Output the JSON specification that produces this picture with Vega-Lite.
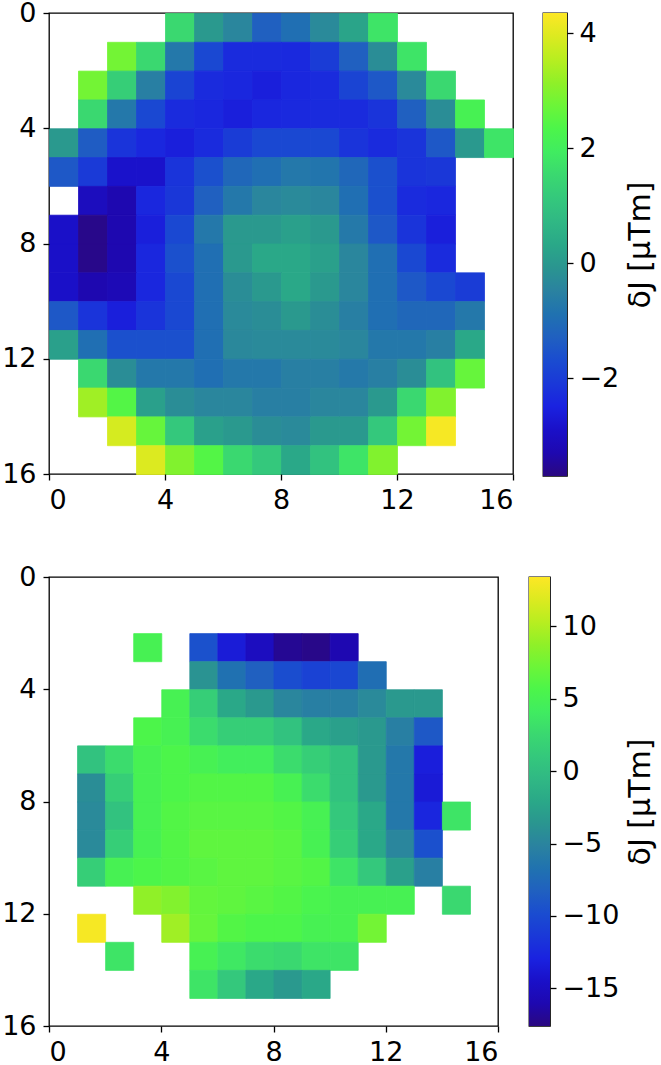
{
  "$schema": "https://vega.github.io/schema/vega-lite/v6.json",
  "background": "white",
  "padding": {"left": 0, "top": -2, "right": 0, "bottom": 0},
  "spacing": 48,
  "resolve": {"scale": {"color": "independent", "x": "independent", "y": "independent"}, "axis": {"x": "independent", "y": "independent"}},
  "config": {
    "font": "DejaVu Sans",
    "view": {"stroke": "black", "strokeWidth": 1.3},
    "axis": {"labelFontSize": 27, "labelColor": "black", "labelFont": "DejaVu Sans", "tickColor": "black", "tickSize": 6, "tickWidth": 1.3, "domain": false, "grid": false, "labelPadding": 7, "titleFont": "DejaVu Sans", "titleFontSize": 30, "titleFontWeight": "normal", "titleColor": "black"}
  },
  "datasets": {
    "top": [
      {"r":0,"c":4,"v":1.53},{"r":0,"c":5,"v":0.0},{"r":0,"c":6,"v":-0.4},{"r":0,"c":7,"v":-1.29},{"r":0,"c":8,"v":-0.96},{"r":0,"c":9,"v":-0.32},{"r":0,"c":10,"v":0.25},{"r":0,"c":11,"v":1.77},
      {"r":1,"c":2,"v":2.82},{"r":1,"c":3,"v":1.53},{"r":1,"c":4,"v":-0.72},{"r":1,"c":5,"v":-1.77},{"r":1,"c":6,"v":-2.33},{"r":1,"c":7,"v":-2.33},{"r":1,"c":8,"v":-2.37},{"r":1,"c":9,"v":-2.01},{"r":1,"c":10,"v":-1.29},{"r":1,"c":11,"v":-0.24},{"r":1,"c":12,"v":1.77},
      {"r":2,"c":1,"v":2.82},{"r":2,"c":2,"v":1.29},{"r":2,"c":3,"v":-0.56},{"r":2,"c":4,"v":-1.85},{"r":2,"c":5,"v":-2.33},{"r":2,"c":6,"v":-2.41},{"r":2,"c":7,"v":-2.57},{"r":2,"c":8,"v":-2.41},{"r":2,"c":9,"v":-2.33},{"r":2,"c":10,"v":-1.85},{"r":2,"c":11,"v":-1.45},{"r":2,"c":12,"v":-0.32},{"r":2,"c":13,"v":1.53},
      {"r":3,"c":1,"v":1.53},{"r":3,"c":2,"v":-0.72},{"r":3,"c":3,"v":-1.77},{"r":3,"c":4,"v":-2.33},{"r":3,"c":5,"v":-2.41},{"r":3,"c":6,"v":-2.57},{"r":3,"c":7,"v":-2.41},{"r":3,"c":8,"v":-2.37},{"r":3,"c":9,"v":-2.33},{"r":3,"c":10,"v":-2.33},{"r":3,"c":11,"v":-2.17},{"r":3,"c":12,"v":-1.29},{"r":3,"c":13,"v":-0.24},{"r":3,"c":14,"v":2.18},
      {"r":4,"c":0,"v":0.0},{"r":4,"c":1,"v":-1.37},{"r":4,"c":2,"v":-2.17},{"r":4,"c":3,"v":-2.41},{"r":4,"c":4,"v":-2.57},{"r":4,"c":5,"v":-2.33},{"r":4,"c":6,"v":-2.01},{"r":4,"c":7,"v":-1.77},{"r":4,"c":8,"v":-1.77},{"r":4,"c":9,"v":-1.77},{"r":4,"c":10,"v":-2.17},{"r":4,"c":11,"v":-2.33},{"r":4,"c":12,"v":-2.17},{"r":4,"c":13,"v":-1.45},{"r":4,"c":14,"v":0.0},{"r":4,"c":15,"v":1.77},
      {"r":5,"c":0,"v":-1.45},{"r":5,"c":1,"v":-2.05},{"r":5,"c":2,"v":-2.85},{"r":5,"c":3,"v":-2.85},{"r":5,"c":4,"v":-2.17},{"r":5,"c":5,"v":-1.61},{"r":5,"c":6,"v":-1.12},{"r":5,"c":7,"v":-0.96},{"r":5,"c":8,"v":-0.72},{"r":5,"c":9,"v":-0.8},{"r":5,"c":10,"v":-1.12},{"r":5,"c":11,"v":-1.61},{"r":5,"c":12,"v":-2.17},{"r":5,"c":13,"v":-2.1},
      {"r":6,"c":1,"v":-3.06},{"r":6,"c":2,"v":-3.3},{"r":6,"c":3,"v":-2.41},{"r":6,"c":4,"v":-2.1},{"r":6,"c":5,"v":-1.29},{"r":6,"c":6,"v":-0.72},{"r":6,"c":7,"v":-0.4},{"r":6,"c":8,"v":-0.32},{"r":6,"c":9,"v":-0.4},{"r":6,"c":10,"v":-0.96},{"r":6,"c":11,"v":-1.61},{"r":6,"c":12,"v":-2.33},{"r":6,"c":13,"v":-2.41},
      {"r":7,"c":0,"v":-2.9},{"r":7,"c":1,"v":-3.62},{"r":7,"c":2,"v":-3.3},{"r":7,"c":3,"v":-2.57},{"r":7,"c":4,"v":-1.77},{"r":7,"c":5,"v":-0.72},{"r":7,"c":6,"v":0.0},{"r":7,"c":7,"v":0.0},{"r":7,"c":8,"v":0.16},{"r":7,"c":9,"v":0.0},{"r":7,"c":10,"v":-0.7},{"r":7,"c":11,"v":-1.45},{"r":7,"c":12,"v":-2.17},{"r":7,"c":13,"v":-2.57},
      {"r":8,"c":0,"v":-2.9},{"r":8,"c":1,"v":-3.62},{"r":8,"c":2,"v":-3.3},{"r":8,"c":3,"v":-2.41},{"r":8,"c":4,"v":-1.61},{"r":8,"c":5,"v":-0.96},{"r":8,"c":6,"v":0.0},{"r":8,"c":7,"v":0.33},{"r":8,"c":8,"v":0.33},{"r":8,"c":9,"v":0.16},{"r":8,"c":10,"v":-0.4},{"r":8,"c":11,"v":-0.96},{"r":8,"c":12,"v":-1.77},{"r":8,"c":13,"v":-2.33},
      {"r":9,"c":0,"v":-2.9},{"r":9,"c":1,"v":-3.3},{"r":9,"c":2,"v":-3.2},{"r":9,"c":3,"v":-2.41},{"r":9,"c":4,"v":-1.77},{"r":9,"c":5,"v":-0.96},{"r":9,"c":6,"v":-0.24},{"r":9,"c":7,"v":0.0},{"r":9,"c":8,"v":0.33},{"r":9,"c":9,"v":0.0},{"r":9,"c":10,"v":-0.4},{"r":9,"c":11,"v":-0.96},{"r":9,"c":12,"v":-1.45},{"r":9,"c":13,"v":-1.77},{"r":9,"c":14,"v":-2.01},
      {"r":10,"c":0,"v":-1.45},{"r":10,"c":1,"v":-2.17},{"r":10,"c":2,"v":-2.57},{"r":10,"c":3,"v":-2.17},{"r":10,"c":4,"v":-1.77},{"r":10,"c":5,"v":-0.96},{"r":10,"c":6,"v":-0.32},{"r":10,"c":7,"v":-0.24},{"r":10,"c":8,"v":0.0},{"r":10,"c":9,"v":-0.24},{"r":10,"c":10,"v":-0.56},{"r":10,"c":11,"v":-0.96},{"r":10,"c":12,"v":-1.12},{"r":10,"c":13,"v":-1.12},{"r":10,"c":14,"v":-0.72},
      {"r":11,"c":0,"v":0.16},{"r":11,"c":1,"v":-0.96},{"r":11,"c":2,"v":-1.61},{"r":11,"c":3,"v":-1.61},{"r":11,"c":4,"v":-1.61},{"r":11,"c":5,"v":-0.96},{"r":11,"c":6,"v":-0.36},{"r":11,"c":7,"v":-0.32},{"r":11,"c":8,"v":-0.32},{"r":11,"c":9,"v":-0.32},{"r":11,"c":10,"v":-0.4},{"r":11,"c":11,"v":-0.72},{"r":11,"c":12,"v":-0.72},{"r":11,"c":13,"v":-0.56},{"r":11,"c":14,"v":0.33},
      {"r":12,"c":1,"v":1.53},{"r":12,"c":2,"v":-0.24},{"r":12,"c":3,"v":-0.72},{"r":12,"c":4,"v":-0.72},{"r":12,"c":5,"v":-0.96},{"r":12,"c":6,"v":-0.72},{"r":12,"c":7,"v":-0.72},{"r":12,"c":8,"v":-0.56},{"r":12,"c":9,"v":-0.56},{"r":12,"c":10,"v":-0.7},{"r":12,"c":11,"v":-0.56},{"r":12,"c":12,"v":-0.24},{"r":12,"c":13,"v":0.97},{"r":12,"c":14,"v":2.66},
      {"r":13,"c":1,"v":3.3},{"r":13,"c":2,"v":2.42},{"r":13,"c":3,"v":0.16},{"r":13,"c":4,"v":-0.24},{"r":13,"c":5,"v":-0.4},{"r":13,"c":6,"v":-0.4},{"r":13,"c":7,"v":-0.56},{"r":13,"c":8,"v":-0.56},{"r":13,"c":9,"v":-0.4},{"r":13,"c":10,"v":-0.4},{"r":13,"c":11,"v":0.0},{"r":13,"c":12,"v":1.53},{"r":13,"c":13,"v":2.98},
      {"r":14,"c":2,"v":3.87},{"r":14,"c":3,"v":2.66},{"r":14,"c":4,"v":1.13},{"r":14,"c":5,"v":0.16},{"r":14,"c":6,"v":0.0},{"r":14,"c":7,"v":-0.24},{"r":14,"c":8,"v":-0.32},{"r":14,"c":9,"v":0.0},{"r":14,"c":10,"v":0.0},{"r":14,"c":11,"v":1.13},{"r":14,"c":12,"v":2.82},{"r":14,"c":13,"v":4.27},
      {"r":15,"c":3,"v":3.95},{"r":15,"c":4,"v":2.98},{"r":15,"c":5,"v":2.42},{"r":15,"c":6,"v":1.53},{"r":15,"c":7,"v":1.13},{"r":15,"c":8,"v":0.33},{"r":15,"c":9,"v":0.97},{"r":15,"c":10,"v":1.77},{"r":15,"c":11,"v":2.98}
    ],
    "bottom": [
      {"r":2,"c":3,"v":5.03},{"r":2,"c":5,"v":-9.5},{"r":2,"c":6,"v":-13.5},{"r":2,"c":7,"v":-15.1},{"r":2,"c":8,"v":-17.0},{"r":2,"c":9,"v":-17.3},{"r":2,"c":10,"v":-16.0},
      {"r":3,"c":5,"v":-3.8},{"r":3,"c":6,"v":-6.8},{"r":3,"c":7,"v":-8.3},{"r":3,"c":8,"v":-9.8},{"r":3,"c":9,"v":-10.6},{"r":3,"c":10,"v":-10.2},{"r":3,"c":11,"v":-7.06},
      {"r":4,"c":4,"v":5.03},{"r":4,"c":5,"v":1.62},{"r":4,"c":6,"v":-2.1},{"r":4,"c":7,"v":-3.34},{"r":4,"c":8,"v":-4.89},{"r":4,"c":9,"v":-5.51},{"r":4,"c":10,"v":-5.51},{"r":4,"c":11,"v":-4.58},{"r":4,"c":12,"v":-3.34},{"r":4,"c":13,"v":-3.34},
      {"r":5,"c":3,"v":5.65},{"r":5,"c":4,"v":5.03},{"r":5,"c":5,"v":2.86},{"r":5,"c":6,"v":1.62},{"r":5,"c":7,"v":1.62},{"r":5,"c":8,"v":0.38},{"r":5,"c":9,"v":-2.1},{"r":5,"c":10,"v":-2.72},{"r":5,"c":11,"v":-3.34},{"r":5,"c":12,"v":-5.51},{"r":5,"c":13,"v":-8.92},
      {"r":6,"c":1,"v":0.38},{"r":6,"c":2,"v":2.86},{"r":6,"c":3,"v":5.03},{"r":6,"c":4,"v":5.65},{"r":6,"c":5,"v":5.03},{"r":6,"c":6,"v":4.41},{"r":6,"c":7,"v":4.41},{"r":6,"c":8,"v":2.86},{"r":6,"c":9,"v":1.62},{"r":6,"c":10,"v":0.38},{"r":6,"c":11,"v":-3.34},{"r":6,"c":12,"v":-6.13},{"r":6,"c":13,"v":-13.26},
      {"r":7,"c":1,"v":-4.27},{"r":7,"c":2,"v":1.62},{"r":7,"c":3,"v":5.03},{"r":7,"c":4,"v":5.65},{"r":7,"c":5,"v":5.96},{"r":7,"c":6,"v":5.96},{"r":7,"c":7,"v":5.96},{"r":7,"c":8,"v":5.03},{"r":7,"c":9,"v":2.86},{"r":7,"c":10,"v":0.38},{"r":7,"c":11,"v":-3.34},{"r":7,"c":12,"v":-6.13},{"r":7,"c":13,"v":-13.57},
      {"r":8,"c":1,"v":-4.58},{"r":8,"c":2,"v":0.38},{"r":8,"c":3,"v":5.03},{"r":8,"c":4,"v":5.96},{"r":8,"c":5,"v":6.27},{"r":8,"c":6,"v":6.27},{"r":8,"c":7,"v":6.27},{"r":8,"c":8,"v":5.96},{"r":8,"c":9,"v":5.03},{"r":8,"c":10,"v":1.0},{"r":8,"c":11,"v":-2.1},{"r":8,"c":12,"v":-6.13},{"r":8,"c":13,"v":-12.64},{"r":8,"c":14,"v":3.48},
      {"r":9,"c":1,"v":-4.58},{"r":9,"c":2,"v":1.62},{"r":9,"c":3,"v":5.03},{"r":9,"c":4,"v":5.96},{"r":9,"c":5,"v":6.58},{"r":9,"c":6,"v":6.58},{"r":9,"c":7,"v":6.58},{"r":9,"c":8,"v":6.27},{"r":9,"c":9,"v":5.03},{"r":9,"c":10,"v":1.62},{"r":9,"c":11,"v":-2.1},{"r":9,"c":12,"v":-4.89},{"r":9,"c":13,"v":-9.54},
      {"r":10,"c":1,"v":1.62},{"r":10,"c":2,"v":5.03},{"r":10,"c":3,"v":5.65},{"r":10,"c":4,"v":5.96},{"r":10,"c":5,"v":6.27},{"r":10,"c":6,"v":6.58},{"r":10,"c":7,"v":6.58},{"r":10,"c":8,"v":6.27},{"r":10,"c":9,"v":5.96},{"r":10,"c":10,"v":3.48},{"r":10,"c":11,"v":1.0},{"r":10,"c":12,"v":-2.72},{"r":10,"c":13,"v":-5.5},
      {"r":11,"c":3,"v":8.75},{"r":11,"c":4,"v":8.13},{"r":11,"c":5,"v":6.74},{"r":11,"c":6,"v":6.58},{"r":11,"c":7,"v":6.27},{"r":11,"c":8,"v":5.96},{"r":11,"c":9,"v":5.4},{"r":11,"c":10,"v":5.03},{"r":11,"c":11,"v":5.03},{"r":11,"c":12,"v":5.03},{"r":11,"c":14,"v":2.55},
      {"r":12,"c":1,"v":13.09},{"r":12,"c":4,"v":9.37},{"r":12,"c":5,"v":6.89},{"r":12,"c":6,"v":5.96},{"r":12,"c":7,"v":5.65},{"r":12,"c":8,"v":5.65},{"r":12,"c":9,"v":5.03},{"r":12,"c":10,"v":5.03},{"r":12,"c":11,"v":7.51},
      {"r":13,"c":2,"v":3.48},{"r":13,"c":5,"v":5.03},{"r":13,"c":6,"v":3.8},{"r":13,"c":7,"v":2.86},{"r":13,"c":8,"v":2.55},{"r":13,"c":9,"v":3.48},{"r":13,"c":10,"v":3.48},
      {"r":14,"c":5,"v":3.48},{"r":14,"c":6,"v":1.0},{"r":14,"c":7,"v":-2.1},{"r":14,"c":8,"v":-3.34},{"r":14,"c":9,"v":-2.1}
    ],
    "bar1": [{"lo": -3.7, "hi": 4.35}],
    "bar2": [{"lo": -17.6, "hi": 13.4}]
  },
  "vconcat": [
    {
      "hconcat": [
        {
          "name": "p1",
          "width": 464,
          "height": 461,
          "data": {"name": "top"},
          "mark": {"type": "rect", "binSpacing": 0, "strokeWidth": 0.8, "stroke": {"expr": "scale('p1_color', datum.v)"}},
          "encoding": {
            "x": {"field": "c", "type": "quantitative", "bin": {"binned": true, "step": 1}, "scale": {"domain": [0, 16], "nice": false, "zero": false}, "axis": {"values": [0, 4, 8, 12, 16], "title": null}},
            "y": {"field": "r", "type": "quantitative", "bin": {"binned": true, "step": 1}, "scale": {"domain": [0, 16], "nice": false, "zero": false, "reverse": true}, "axis": {"values": [0, 4, 8, 12, 16], "title": null}},
            "color": {
              "field": "v", "type": "quantitative",
              "scale": {
                "domain": [-3.7, -3.2975, -2.895, -2.4925, -2.09, -1.6875, -1.285, -0.8825, -0.48, -0.0775, 0.325, 0.7275, 1.13, 1.5325, 1.935, 2.3375, 2.74, 3.1425, 3.545, 3.9475, 4.35],
                "range": ["#2a0880", "#1e08b0", "#1a10c8", "#1a22e0", "#1a38d8", "#1a4cd0", "#2060c0", "#2072b0", "#2a82a0", "#2a9590", "#2aa888", "#30b884", "#34c87c", "#3ad870", "#40ec60", "#4cf54a", "#6cf538", "#90f028", "#b8ee20", "#dcea20", "#fde725"],
                "interpolate": "rgb"
              },
              "legend": null
            }
          }
        },
        {
          "width": 24,
          "height": 463,
          "data": {"name": "bar1"},
          "mark": {"type": "rect", "fill": {"gradient": "linear", "x1": 0, "y1": 1, "x2": 0, "y2": 0, "stops": [
            {"offset": 0, "color": "#2a0880"}, {"offset": 0.05, "color": "#1e08b0"}, {"offset": 0.1, "color": "#1a10c8"}, {"offset": 0.15, "color": "#1a22e0"}, {"offset": 0.2, "color": "#1a38d8"}, {"offset": 0.25, "color": "#1a4cd0"}, {"offset": 0.3, "color": "#2060c0"}, {"offset": 0.35, "color": "#2072b0"}, {"offset": 0.4, "color": "#2a82a0"}, {"offset": 0.45, "color": "#2a9590"}, {"offset": 0.5, "color": "#2aa888"}, {"offset": 0.55, "color": "#30b884"}, {"offset": 0.6, "color": "#34c87c"}, {"offset": 0.65, "color": "#3ad870"}, {"offset": 0.7, "color": "#40ec60"}, {"offset": 0.75, "color": "#4cf54a"}, {"offset": 0.8, "color": "#6cf538"}, {"offset": 0.85, "color": "#90f028"}, {"offset": 0.9, "color": "#b8ee20"}, {"offset": 0.95, "color": "#dcea20"}, {"offset": 1, "color": "#fde725"}]}},
          "encoding": {
            "y": {"field": "lo", "type": "quantitative", "scale": {"domain": [-3.7, 4.35], "nice": false, "zero": false}, "axis": {"orient": "right", "values": [4, 2, 0, -2], "title": "δJ [μTm]", "titleAngle": 270, "titleBaseline": "top", "titlePadding": 7, "labelPadding": 6}},
            "y2": {"field": "hi"}
          }
        }
      ],
      "spacing": 30,
      "bounds": "flush",
      "resolve": {"scale": {"color": "independent", "x": "independent", "y": "independent"}, "axis": {"y": "independent"}}
    },
    {
      "hconcat": [
        {
          "name": "p2",
          "width": 449,
          "height": 449,
          "data": {"name": "bottom"},
          "mark": {"type": "rect", "binSpacing": 0, "strokeWidth": 0.8, "stroke": {"expr": "scale('p2_color', datum.v)"}},
          "encoding": {
            "x": {"field": "c", "type": "quantitative", "bin": {"binned": true, "step": 1}, "scale": {"domain": [0, 16], "nice": false, "zero": false}, "axis": {"values": [0, 4, 8, 12, 16], "title": null}},
            "y": {"field": "r", "type": "quantitative", "bin": {"binned": true, "step": 1}, "scale": {"domain": [0, 16], "nice": false, "zero": false, "reverse": true}, "axis": {"values": [0, 4, 8, 12, 16], "title": null}},
            "color": {
              "field": "v", "type": "quantitative",
              "scale": {
                "domain": [-17.6, -16.05, -14.5, -12.95, -11.4, -9.85, -8.3, -6.75, -5.2, -3.65, -2.1, -0.55, 1.0, 2.55, 4.1, 5.65, 7.2, 8.75, 10.3, 11.85, 13.4],
                "range": ["#2a0880", "#1e08b0", "#1a10c8", "#1a22e0", "#1a38d8", "#1a4cd0", "#2060c0", "#2072b0", "#2a82a0", "#2a9590", "#2aa888", "#30b884", "#34c87c", "#3ad870", "#40ec60", "#4cf54a", "#6cf538", "#90f028", "#b8ee20", "#dcea20", "#fde725"],
                "interpolate": "rgb"
              },
              "legend": null
            }
          }
        },
        {
          "width": 21,
          "height": 449,
          "data": {"name": "bar2"},
          "mark": {"type": "rect", "fill": {"gradient": "linear", "x1": 0, "y1": 1, "x2": 0, "y2": 0, "stops": [
            {"offset": 0, "color": "#2a0880"}, {"offset": 0.05, "color": "#1e08b0"}, {"offset": 0.1, "color": "#1a10c8"}, {"offset": 0.15, "color": "#1a22e0"}, {"offset": 0.2, "color": "#1a38d8"}, {"offset": 0.25, "color": "#1a4cd0"}, {"offset": 0.3, "color": "#2060c0"}, {"offset": 0.35, "color": "#2072b0"}, {"offset": 0.4, "color": "#2a82a0"}, {"offset": 0.45, "color": "#2a9590"}, {"offset": 0.5, "color": "#2aa888"}, {"offset": 0.55, "color": "#30b884"}, {"offset": 0.6, "color": "#34c87c"}, {"offset": 0.65, "color": "#3ad870"}, {"offset": 0.7, "color": "#40ec60"}, {"offset": 0.75, "color": "#4cf54a"}, {"offset": 0.8, "color": "#6cf538"}, {"offset": 0.85, "color": "#90f028"}, {"offset": 0.9, "color": "#b8ee20"}, {"offset": 0.95, "color": "#dcea20"}, {"offset": 1, "color": "#fde725"}]}},
          "encoding": {
            "y": {"field": "lo", "type": "quantitative", "scale": {"domain": [-17.6, 13.4], "nice": false, "zero": false}, "axis": {"orient": "right", "values": [10, 5, 0, -5, -10, -15], "title": "δJ [μTm]", "titleAngle": 270, "titleBaseline": "top", "titlePadding": 7, "labelPadding": 6}},
            "y2": {"field": "hi"}
          }
        }
      ],
      "spacing": 31,
      "bounds": "flush",
      "resolve": {"scale": {"color": "independent", "x": "independent", "y": "independent"}, "axis": {"y": "independent"}}
    }
  ]
}
